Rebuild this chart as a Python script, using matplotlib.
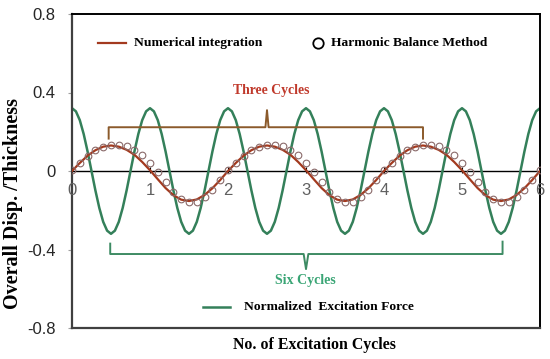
import numpy as np
import matplotlib
matplotlib.use("Agg")
import matplotlib.pyplot as plt

# excitation force, sampled every 0.05 cycle
force_x = np.linspace(0, 6, 121)
force = [
    0.32, 0.304, 0.259, 0.188, 0.099, 0.0, -0.099, -0.188, -0.259, -0.304,
    -0.32, -0.304, -0.259, -0.188, -0.099, 0.0, 0.099, 0.188, 0.259, 0.304,
    0.32, 0.304, 0.259, 0.188, 0.099, 0.0, -0.099, -0.188, -0.259, -0.304,
    -0.32, -0.304, -0.259, -0.188, -0.099, 0.0, 0.099, 0.188, 0.259, 0.304,
    0.32, 0.304, 0.259, 0.188, 0.099, 0.0, -0.099, -0.188, -0.259, -0.304,
    -0.32, -0.304, -0.259, -0.188, -0.099, 0.0, 0.099, 0.188, 0.259, 0.304,
    0.32, 0.304, 0.259, 0.188, 0.099, 0.0, -0.099, -0.188, -0.259, -0.304,
    -0.32, -0.304, -0.259, -0.188, -0.099, 0.0, 0.099, 0.188, 0.259, 0.304,
    0.32, 0.304, 0.259, 0.188, 0.099, 0.0, -0.099, -0.188, -0.259, -0.304,
    -0.32, -0.304, -0.259, -0.188, -0.099, 0.0, 0.099, 0.188, 0.259, 0.304,
    0.32, 0.304, 0.259, 0.188, 0.099, 0.0, -0.099, -0.188, -0.259, -0.304,
    -0.32, -0.304, -0.259, -0.188, -0.099, 0.0, 0.099, 0.188, 0.259, 0.304,
    0.32,
]

# displacement, sampled every 0.1 cycle
disp_x = np.linspace(0, 6, 61)
numerical = [
    0.0, 0.041, 0.078, 0.106, 0.124, 0.13, 0.124, 0.108, 0.083, 0.046,
    0.004, -0.042, -0.087, -0.123, -0.146, -0.153, -0.145, -0.122, -0.088, -0.046,
    0.0, 0.041, 0.078, 0.106, 0.124, 0.13, 0.124, 0.108, 0.083, 0.046,
    0.004, -0.042, -0.087, -0.123, -0.146, -0.153, -0.145, -0.122, -0.088, -0.046,
    0.0, 0.041, 0.078, 0.106, 0.124, 0.13, 0.124, 0.108, 0.083, 0.046,
    0.004, -0.042, -0.087, -0.123, -0.146, -0.153, -0.145, -0.122, -0.088, -0.046,
    0.0,
]
harmonic = [
    0.005, 0.04, 0.078, 0.105, 0.122, 0.13, 0.132, 0.125, 0.108, 0.082,
    0.043, -0.005, -0.055, -0.107, -0.142, -0.16, -0.157, -0.135, -0.097, -0.048,
    0.005, 0.04, 0.078, 0.105, 0.122, 0.13, 0.132, 0.125, 0.108, 0.082,
    0.043, -0.005, -0.055, -0.107, -0.142, -0.16, -0.157, -0.135, -0.097, -0.048,
    0.005, 0.04, 0.078, 0.105, 0.122, 0.13, 0.132, 0.125, 0.108, 0.082,
    0.043, -0.005, -0.055, -0.107, -0.142, -0.16, -0.157, -0.135, -0.097, -0.048,
    0.005,
]

y_ticks = [0.8, 0.4, 0, -0.4, -0.8]
y_labels = ["0.8", "0.4", "0", "-0.4", "-0.8"]
x_labels = ["0", "1", "2", "3", "4", "5", "6"]

RED = "#a33a1f"
GREEN = "#34805a"
SERIF = "Liberation Serif"
SANS = "Liberation Sans"

fig = plt.figure(figsize=(5.5, 3.59), dpi=100)
ax = fig.add_axes([72 / 550, 1 - 328 / 359, 468 / 550, 314 / 359])
ax.set_xlim(0, 6)
ax.set_ylim(-0.8, 0.8)

ax.plot(force_x, force, color=GREEN, lw=1.8, zorder=2)
ax.plot(disp_x, numerical, color=RED, lw=1.6, zorder=3)
ax.plot(disp_x, harmonic, ls="none", marker="o", ms=4.8, mfc="none",
        mec="#8a6a6a", mew=0.8, zorder=4)

# zero line with small cycle ticks
ax.axhline(0, color="black", lw=1.0, zorder=1)
ax.vlines(range(1, 7), -0.012, 0.022, color="black", lw=0.8, zorder=1)
for i, lab in enumerate(x_labels):
    ax.text(i, -0.1, lab, ha="center", va="center", fontsize=12,
            family=SANS, color="#606060")

ax.set_xticks([])
ax.set_yticks(y_ticks)
ax.set_yticklabels(y_labels, family=SANS, fontsize=12, color="#262626")
ax.tick_params(axis="y", length=3, width=0.8, color="#a0a0a0", pad=9)
for side in ["left", "bottom"]:
    ax.spines[side].set_color("#404040")
    ax.spines[side].set_linewidth(1.6)
for side in ["top", "right"]:
    ax.spines[side].set_color("black")
    ax.spines[side].set_linewidth(1.4)

# brackets
BROWN = "#8b5a2b"
ax.plot([0.47, 0.47, 2.48, 2.5, 2.52, 4.5, 4.5],
        [0.165, 0.223, 0.223, 0.31, 0.223, 0.223, 0.165], color=BROWN, lw=1.4)
ax.text(2.55, 0.409, "Three Cycles", ha="center", va="center", fontsize=9.9,
        family=SERIF, weight="bold", color="#c0392b")
ax.plot([0.49, 0.49, 2.97, 3.0, 3.03, 5.52, 5.52],
        [-0.37, -0.423, -0.423, -0.5, -0.423, -0.423, -0.36], color="#3d8b63", lw=1.4)
ax.text(2.99, -0.56, "Six Cycles", ha="center", va="center", fontsize=10,
        family=SERIF, weight="bold", color="#3aa575")

# legend entries written in place
ax.plot([0.33, 0.69], [0.654, 0.654], color=RED, lw=1.6)
ax.text(0.80, 0.654, "Numerical integration", ha="left", va="center",
        fontsize=9.7, family=SERIF, weight="bold")
ax.plot([3.16], [0.654], marker="o", ms=7.5, mfc="none", mec="black", mew=1.3)
ax.text(3.32, 0.654, "Harmonic Balance Method", ha="left", va="center",
        fontsize=9.7, family=SERIF, weight="bold")
ax.plot([1.675, 2.03], [-0.691, -0.691], color=GREEN, lw=1.8)
ax.text(2.2, -0.691, "Normalized  Excitation Force", ha="left", va="center",
        fontsize=9.7, family=SERIF, weight="bold")

fig.text(314 / 550, 1 - 345 / 359, "No. of Excitation Cycles", ha="center",
         va="center", fontsize=11.4, family=SERIF, weight="bold")
fig.text(13 / 550, 1 - 203.5 / 359, "Overall Disp. /Thickness", ha="center",
         va="center", rotation=90, fontsize=14.5, family=SERIF, weight="bold")

fig.savefig("out.png", dpi=100)
